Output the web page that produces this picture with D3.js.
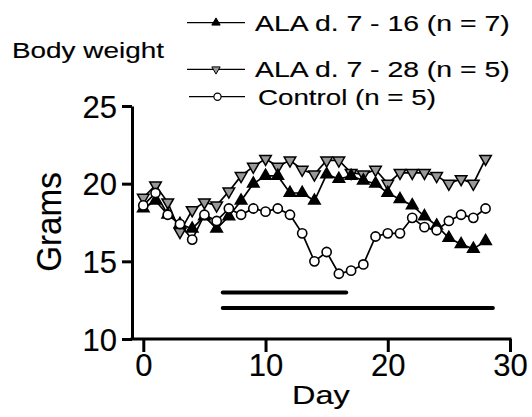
<!DOCTYPE html>
<html lang="en">
  <head>
    <meta charset="utf-8">
    <title>Body weight</title>
    <script type="text/javascript" src="https://cdn.jsdelivr.net/npm/d3@7"></script>
    <style type="text/css">
      body { margin: 0; background: #fff; }
      text { font-family: "Liberation Sans", Arial, sans-serif; fill: #000; stroke: #000; stroke-width: 0.15px; }
    </style>
  </head>
  <body>
    <script type="text/javascript">

      //Width and height
      var w = 532;
      var h = 417;

      //Data
      var days = [0, 1, 2, 3, 4, 5, 6, 7, 8, 9, 10, 11, 12, 13, 14, 15, 16, 17, 18, 19, 20, 21, 22, 23, 24, 25, 26, 27, 28];
      var ala16 = [18.4, 18.9, 18.0, 17.4, 17.1, 17.9, 17.1, 17.9, 18.9, 20.0, 20.5, 20.5, 19.4, 19.4, 18.9, 20.6, 20.3, 20.5, 20.2, 20.0, 19.4, 19.0, 18.6, 17.9, 17.3, 16.5, 16.1, 15.8, 16.3];
      var ala28 = [19.1, 19.9, 18.8, 16.9, 18.3, 18.8, 18.6, 19.5, 20.5, 21.1, 21.6, 21.1, 21.5, 20.9, 20.6, 21.5, 21.5, 20.7, 20.6, 20.9, 20.0, 20.7, 20.7, 20.7, 20.5, 20.0, 20.3, 20.0, 21.6];
      var control = [18.6, 19.4, 18.0, 17.4, 16.4, 18.0, 17.6, 18.4, 18.0, 18.4, 18.2, 18.4, 18.0, 16.8, 15.0, 15.6, 14.2, 14.4, 14.8, 16.6, 16.8, 16.8, 17.8, 17.2, 17.0, 17.6, 18.0, 17.8, 18.4];

      //Treatment bars (day start, day end)
      var bars = [[6.5, 16.6], [6.5, 28.6]];

      var xTicks = [0, 10, 20, 30];
      var yTicks = [10, 15, 20, 25];

      var legendLabels = ["ALA d. 7 - 16 (n = 7)", "ALA d. 7 - 28 (n = 5)", "Control (n = 5)"];

      //Scales
      var x = d3.scaleLinear().domain([0, 30]).range([143.3, 510]);
      var y = d3.scaleLinear().domain([10, 25]).range([339, 106]);
      var axisX = 132;

      //Create SVG element
      var svg = d3.select("body")
                  .append("svg")
                  .attr("width", w)
                  .attr("height", h);

      //Axes
      var yAxis = svg.append("g")
                     .attr("transform", "translate(" + axisX + ",0)")
                     .call(d3.axisLeft(y).tickValues(yTicks).tickSize(10).tickSizeOuter(0).tickPadding(5));

      var xAxis = svg.append("g")
                     .attr("transform", "translate(0," + y(10) + ")")
                     .call(d3.axisBottom(x).tickValues(xTicks).tickSize(13).tickSizeOuter(0).tickPadding(2));

      xAxis.select(".domain").remove();
      xAxis.append("line")
           .attr("x1", axisX - 1.5)
           .attr("x2", x(30) + 1.5)
           .attr("stroke", "#000")
           .attr("stroke-width", 3);

      svg.selectAll(".domain").attr("stroke-width", 3);
      svg.selectAll(".tick line").attr("stroke-width", 3);
      svg.selectAll(".tick text")
         .style("font-size", "31px")
         .style("font-family", "'Liberation Sans', Arial, sans-serif");
      yAxis.selectAll(".tick text").attr("dy", "0.36em");

      //Axis titles (the original text is a little stretched sideways)
      svg.append("text")
         .attr("transform", "translate(61,222) rotate(-90) scale(0.95,1)")
         .attr("text-anchor", "middle")
         .style("font-size", "35px")
         .text("Grams");

      svg.append("text")
         .attr("transform", "translate(292,404) scale(1.3,1)")
         .style("font-size", "25px")
         .text("Day");

      //Treatment bars
      svg.selectAll("line.bar")
         .data(bars)
         .enter()
         .append("line")
         .attr("class", "bar")
         .attr("x1", function(d) { return x(d[0]); })
         .attr("x2", function(d) { return x(d[1]); })
         .attr("y1", function(d, i) { return y(13.0 - i * 1.0); })
         .attr("y2", function(d, i) { return y(13.0 - i * 1.0); })
         .attr("stroke", "#000")
         .attr("stroke-width", 4)
         .attr("stroke-linecap", "round");

      //Symbols
      var triangle = d3.symbol().type(d3.symbolTriangle).size(58);

      var line = d3.line()
                   .x(function(d) { return x(d.day); })
                   .y(function(d) { return y(d.v); });

      var series = [
        { name: "ala28", values: ala28, fill: "#999", shape: "down" },
        { name: "ala16", values: ala16, fill: "#000", shape: "up" },
        { name: "control", values: control, fill: "#fff", shape: "circle" }
      ];

      series.forEach(function(s) {
        var pts = days.map(function(d, i) { return { day: d, v: s.values[i] }; });

        var g = svg.append("g").attr("class", s.name);

        g.append("path")
         .datum(pts)
         .attr("d", line)
         .attr("fill", "none")
         .attr("stroke", "#000")
         .attr("stroke-width", 1.7);

        if (s.shape === "circle") {
          g.selectAll("circle")
           .data(pts)
           .enter()
           .append("circle")
           .attr("cx", function(d) { return x(d.day); })
           .attr("cy", function(d) { return y(d.v); })
           .attr("r", 4.6)
           .attr("fill", s.fill)
           .attr("stroke", "#000")
           .attr("stroke-width", 1.6);
        } else {
          g.selectAll("path.sym")
           .data(pts)
           .enter()
           .append("path")
           .attr("class", "sym")
           .attr("d", triangle())
           .attr("transform", function(d) {
             return "translate(" + x(d.day) + "," + y(d.v) + ")" + (s.shape === "down" ? " rotate(180)" : "");
           })
           .attr("fill", s.fill)
           .attr("stroke", "#000")
           .attr("stroke-width", 1.5);
        }
      });

      //Title
      svg.append("text")
         .attr("transform", "translate(12,58) scale(1.24,1)")
         .style("font-size", "22.5px")
         .text("Body weight");

      //Legend
      var legendY = [22.7, 69.3, 96.7];
      var legendShapes = ["up", "down", "circle"];
      var legendFill = ["#000", "#999", "#fff"];
      var legendTextX = [255, 255, 258];

      var legend = svg.selectAll("g.legend")
                      .data(legendLabels)
                      .enter()
                      .append("g")
                      .attr("class", "legend")
                      .attr("transform", function(d, i) { return "translate(0," + legendY[i] + ")"; });

      legend.append("line")
            .attr("x1", function(d, i) { return i === 2 ? 189 : 187; })
            .attr("x2", 245)
            .attr("stroke", "#000")
            .attr("stroke-width", 1.3);

      legend.each(function(d, i) {
        var g = d3.select(this);
        if (legendShapes[i] === "circle") {
          g.append("circle")
           .attr("cx", 217.5)
           .attr("r", 3.6)
           .attr("fill", "#fff")
           .attr("stroke", "#000")
           .attr("stroke-width", 1.2);
        } else {
          g.append("path")
           .attr("d", d3.symbol().type(d3.symbolTriangle).size(30)())
           .attr("transform", "translate(216,0)" + (legendShapes[i] === "down" ? " rotate(180)" : ""))
           .attr("fill", legendFill[i])
           .attr("stroke", "#000")
           .attr("stroke-width", 1);
        }
      });

      legend.append("text")
            .attr("transform", function(d, i) { return "translate(" + legendTextX[i] + ",7.8) scale(" + (i === 2 ? 1.26 : 1.29) + ",1)"; })
            .style("font-size", "22px")
            .text(function(d) { return d; });

    </script>
  </body>
</html>
